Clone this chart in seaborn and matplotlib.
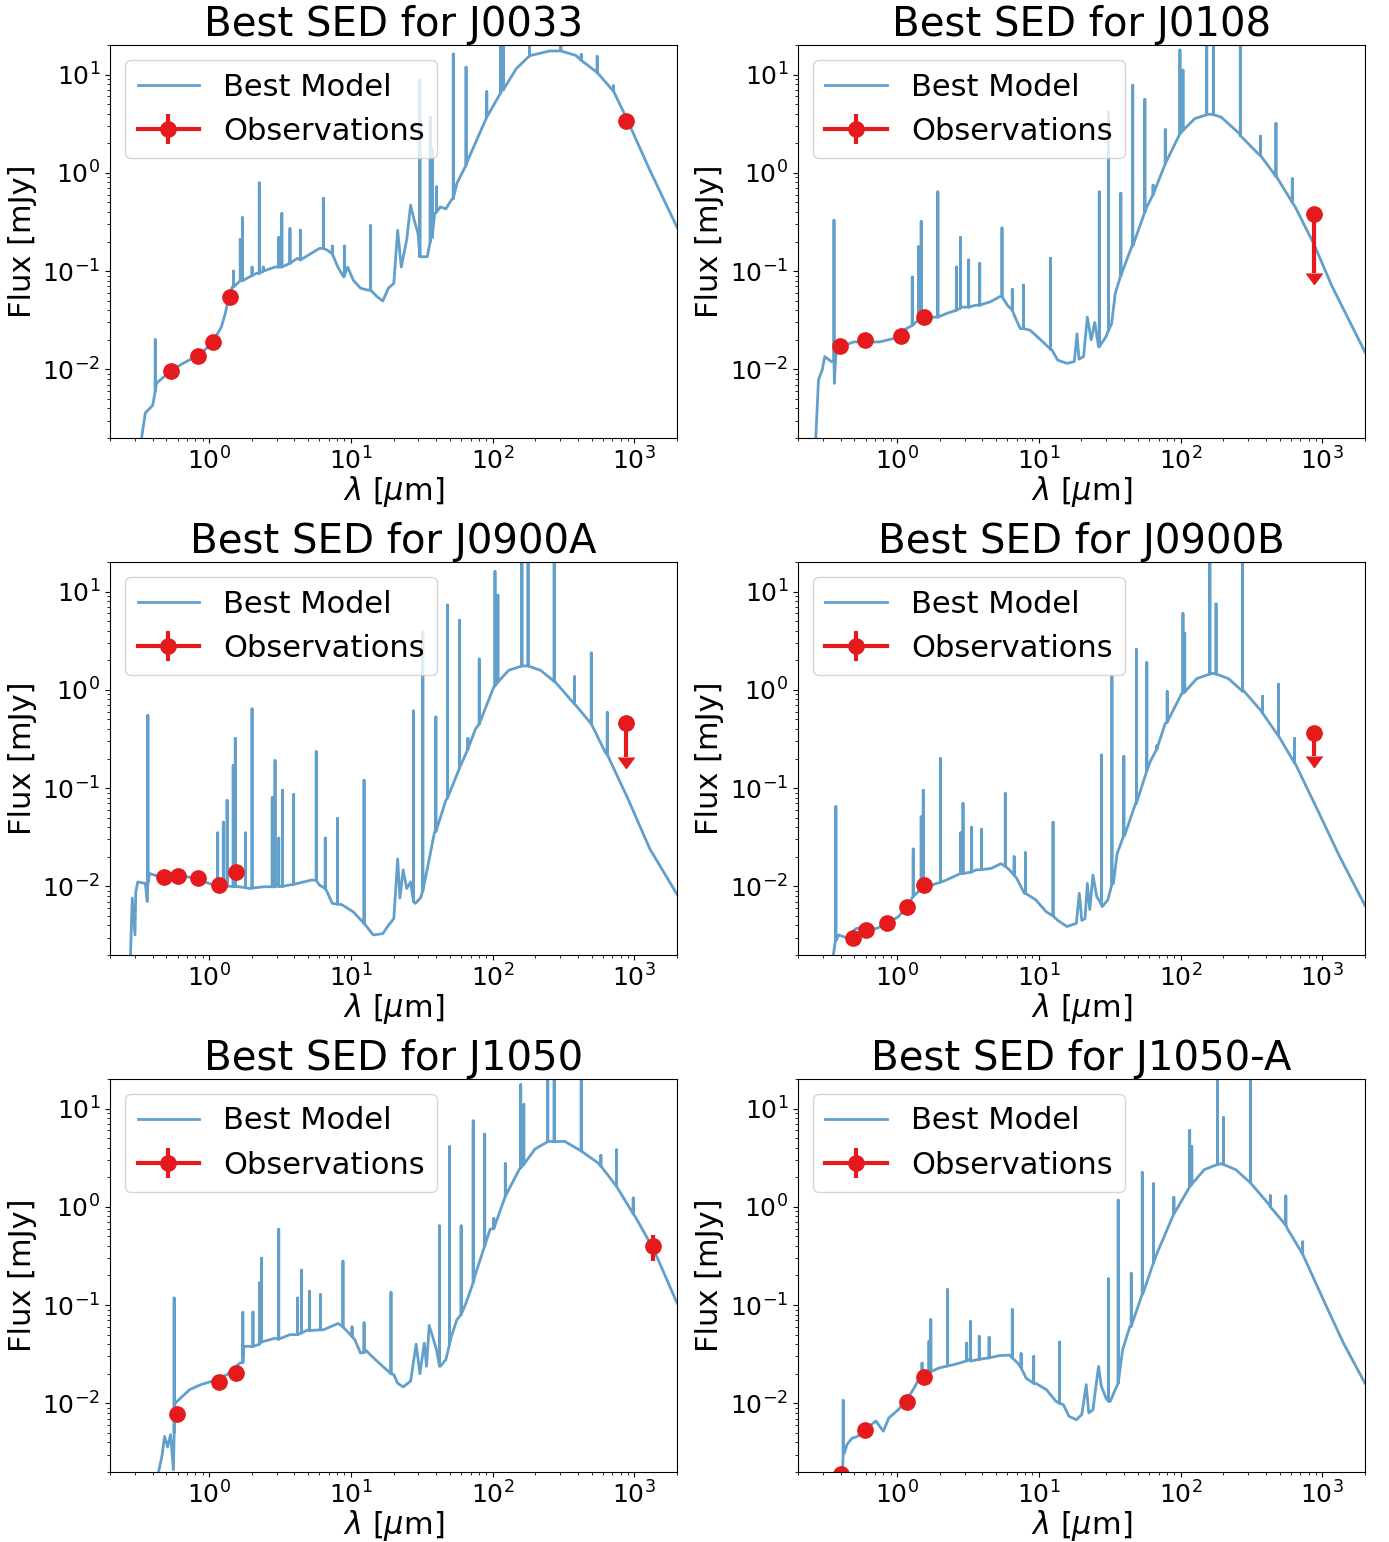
import matplotlib
matplotlib.use("Agg")
import pandas as pd
import matplotlib.pyplot as plt
import seaborn as sns

MODEL_COLOR = "#1f77b4"
OBS_COLOR = "#e41a1c"

# ---------------- J0033 ----------------
j0033_cont_wl = [0.334, 0.355, 0.40, 0.425, 0.48, 0.54, 0.69, 0.85, 1.05, 1.22, 1.30, 1.38, 1.46, 1.70,
                 2.16, 2.92, 4.2, 6.0, 6.8, 8.1, 8.9, 9.5, 10.4, 11.7, 13.2, 15.3, 16.8, 18.4, 20.1, 21.4,
                 22.7, 24.8, 26.4, 28, 29.8, 31.6, 34.6, 36.7, 39, 42.8, 46.8, 51.2, 56, 67, 91, 116, 147,
                 187, 253, 303, 386, 521, 705, 897, 1288, 2000]
j0033_cont_fx = [0.002, 0.0036, 0.0043, 0.0072, 0.0084, 0.0098, 0.012, 0.014, 0.0184, 0.027, 0.037, 0.055,
                 0.069, 0.081, 0.095, 0.11, 0.135, 0.17, 0.164, 0.11, 0.087, 0.11, 0.081, 0.067, 0.064, 0.055,
                 0.0496, 0.067, 0.075, 0.26, 0.11, 0.21, 0.47, 0.33, 0.24, 0.14, 0.14, 0.22, 0.385, 0.45, 0.43,
                 0.53, 0.78, 1.35, 3.7, 6.9, 11.5, 15.7, 17.4, 17.4, 15.7, 11.1, 6.9, 3.4, 1.06, 0.28]
j0033_line_wl = [0.417, 1.49, 1.66, 1.72, 2.01, 2.26, 2.41, 3.1, 3.26, 3.72, 4.41, 6.4, 7.4, 9.0, 13.8, 30.7,
                 36.3, 37.5, 40.3, 52.8, 65, 91, 114, 119, 182, 303, 422, 547, 713]
j0033_line_base = [0.006, 0.069, 0.08, 0.08, 0.09, 0.095, 0.1, 0.11, 0.11, 0.12, 0.13, 0.17, 0.15, 0.09, 0.064,
                   0.14, 0.2, 0.22, 0.4, 0.55, 1.2, 3.7, 6.5, 7.0, 15.5, 17.4, 14, 10.5, 6.8]
j0033_line_peak = [0.020, 0.10, 0.21, 0.35, 0.11, 0.79, 0.11, 0.22, 0.385, 0.27, 0.26, 0.55, 0.18, 0.18, 0.29,
                   8.8, 3.7, 1.77, 0.72, 16.2, 11.9, 6.7, 30, 30, 30, 30, 16, 15.3, 7.7]
j0033_obs_wl = [0.535, 0.83, 1.06, 1.40, 870]
j0033_obs_fx = [0.0097, 0.0138, 0.019, 0.054, 3.37]
j0033_obs_err = [0.0005, 0.0007, 0.001, 0.003, 0.3]
j0033_ul_wl, j0033_ul_fx, j0033_ul_err = [], [], []

# ---------------- J0108 ----------------
j0108_cont_wl = [0.267, 0.279, 0.296, 0.309, 0.344, 0.361, 0.37, 0.40, 0.494, 0.59, 0.75, 0.96, 1.11, 1.42,
                 1.75, 2.23, 2.84, 3.6, 4.6, 5.3, 6.0, 6.8, 7.4, 8.7, 10.7, 12.4, 13.6, 15.8, 17.8, 18.6, 19.2,
                 20.7, 22.0, 23.4, 24.8, 26.4, 29.8, 32.6, 34.6, 37.9, 45.4, 57.8, 78, 99, 126, 161, 193, 261,
                 352, 476, 644, 870, 1177, 2000]
j0108_cont_fx = [0.002, 0.0078, 0.0098, 0.0135, 0.012, 0.0072, 0.014, 0.017, 0.019, 0.019, 0.019, 0.0207,
                 0.025, 0.032, 0.034, 0.037, 0.043, 0.045, 0.049, 0.055, 0.045, 0.034, 0.026, 0.025, 0.019,
                 0.0157, 0.0124, 0.0115, 0.012, 0.023, 0.0127, 0.0135, 0.034, 0.02, 0.03, 0.017, 0.0215, 0.029,
                 0.059, 0.091, 0.18, 0.45, 1.24, 2.5, 3.57, 3.96, 3.7, 2.5, 1.57, 0.91, 0.45, 0.19, 0.069, 0.015]
j0108_line_wl = [0.359, 1.28, 1.42, 1.48, 1.94, 2.62, 2.8, 3.2, 3.83, 5.5, 6.5, 7.8, 12.1, 26.7, 31, 37.9, 46,
                 56, 64, 78, 99, 104, 153, 171, 264, 367, 471, 614]
j0108_line_base = [0.012, 0.028, 0.032, 0.032, 0.034, 0.04, 0.042, 0.043, 0.045, 0.055, 0.04, 0.026, 0.016,
                   0.017, 0.025, 0.09, 0.18, 0.4, 0.6, 1.24, 2.5, 2.7, 3.9, 3.9, 2.4, 1.5, 0.92, 0.5]
j0108_line_peak = [0.33, 0.087, 0.177, 0.32, 0.64, 0.11, 0.22, 0.13, 0.12, 0.275, 0.065, 0.072, 0.135, 0.64,
                   4.2, 0.62, 7.8, 5.6, 0.75, 2.75, 17.8, 11.1, 30, 30, 30, 2.36, 3.2, 0.87]
j0108_obs_wl = [0.395, 0.59, 1.06, 1.55]
j0108_obs_fx = [0.0173, 0.020, 0.022, 0.034]
j0108_obs_err = [0.0009, 0.001, 0.0011, 0.0017]
j0108_ul_wl, j0108_ul_fx, j0108_ul_err = [870], [0.38], [0.285]

# ---------------- J0900A ----------------
j0900a_cont_wl = [0.279, 0.287, 0.30, 0.304, 0.314, 0.355, 0.366, 0.381, 0.45, 0.574, 0.73, 0.93, 1.18, 1.51,
                  1.92, 2.44, 3.1, 4.2, 5.3, 6.0, 6.8, 7.4, 8.65, 10.4, 12.4, 14.4, 16.8, 18.4, 20.1, 21.4,
                  22.2, 23.4, 24.8, 26.4, 28.5, 31, 34.6, 39, 46.8, 59.6, 75.8, 102, 130, 166, 218, 277, 374,
                  462, 625, 897, 1288, 2000]
j0900a_cont_fx = [0.002, 0.0076, 0.0032, 0.0088, 0.0111, 0.0107, 0.007, 0.0135, 0.0125, 0.013, 0.0124, 0.0111,
                  0.0103, 0.0099, 0.0095, 0.0099, 0.0103, 0.0107, 0.0116, 0.0103, 0.0088, 0.0067, 0.0065, 0.0055,
                  0.0042, 0.0032, 0.0033, 0.004, 0.0047, 0.019, 0.0076, 0.0147, 0.0095, 0.0111, 0.0067, 0.0076,
                  0.015, 0.036, 0.075, 0.17, 0.40, 1.07, 1.58, 1.75, 1.58, 1.2, 0.73, 0.51, 0.23, 0.079, 0.024,
                  0.0083]
j0900a_line_wl = [0.37, 1.15, 1.26, 1.34, 1.48, 1.53, 1.81, 2.01, 2.79, 2.92, 3.1, 3.3, 3.95, 5.7, 6.6, 8.05,
                  12.4, 27.7, 32.2, 39.8, 48.2, 58.5, 67, 80.5, 104, 109, 161, 178, 272, 379, 497, 644]
j0900a_line_base = [0.011, 0.01, 0.01, 0.01, 0.01, 0.01, 0.0097, 0.0096, 0.0099, 0.0099, 0.01, 0.01, 0.0105,
                    0.0115, 0.0095, 0.0066, 0.0042, 0.007, 0.009, 0.036, 0.08, 0.16, 0.25, 0.45, 1.1, 1.2, 1.75,
                    1.75, 1.22, 0.72, 0.45, 0.22]
j0900a_line_peak = [0.55, 0.035, 0.045, 0.075, 0.17, 0.32, 0.035, 0.64, 0.08, 0.19, 0.031, 0.095, 0.086, 0.235,
                    0.031, 0.049, 0.12, 0.61, 3.9, 0.53, 7.3, 5.1, 0.32, 2.06, 16, 9.2, 30, 30, 30, 1.36, 2.37,
                    0.59]
j0900a_obs_wl = [0.48, 0.60, 0.84, 1.17, 1.55]
j0900a_obs_fx = [0.0124, 0.0127, 0.0123, 0.0102, 0.014]
j0900a_obs_err = [0.0006, 0.0006, 0.0006, 0.0005, 0.0007]
j0900a_ul_wl, j0900a_ul_fx, j0900a_ul_err = [870], [0.46], [0.255]

# ---------------- J0900B ----------------
j0900b_cont_wl = [0.355, 0.366, 0.388, 0.44, 0.51, 0.59, 0.71, 0.85, 1.02, 1.15, 1.30, 1.46, 1.75, 2.23, 2.84,
                  3.6, 4.6, 5.4, 6.2, 7.0, 7.9, 9.5, 11.3, 13.6, 15.8, 18.4, 19.3, 20.1, 21.2, 22.0, 22.9, 24.1,
                  25.6, 28, 30.7, 33.6, 35.7, 40.3, 48.2, 61, 78, 102, 130, 171, 218, 277, 374, 476, 644, 925,
                  1327, 2000]
j0900b_cont_fx = [0.002, 0.0027, 0.0032, 0.003, 0.0037, 0.0039, 0.0037, 0.0042, 0.0049, 0.006, 0.0079, 0.0092,
                  0.0103, 0.0116, 0.0136, 0.0147, 0.0152, 0.017, 0.0147, 0.012, 0.0085, 0.0073, 0.0055, 0.0045,
                  0.0039, 0.0042, 0.0085, 0.0045, 0.0047, 0.0107, 0.0058, 0.013, 0.0079, 0.0062, 0.0073, 0.0107,
                  0.0216, 0.033, 0.07, 0.185, 0.455, 0.92, 1.3, 1.47, 1.3, 0.99, 0.6, 0.36, 0.178, 0.06, 0.02,
                  0.0064]
j0900b_line_wl = [0.37, 1.3, 1.48, 1.53, 2.02, 2.8, 2.92, 3.36, 3.95, 5.8, 6.7, 8.05, 12.6, 27.7, 32.8, 39.8,
                  48.8, 57.8, 68, 80.5, 104, 107, 161, 178, 273, 379, 491, 637]
j0900b_line_base = [0.0028, 0.0079, 0.0092, 0.0095, 0.011, 0.0135, 0.0135, 0.014, 0.0148, 0.016, 0.013, 0.0085,
                    0.005, 0.0065, 0.0105, 0.033, 0.07, 0.15, 0.25, 0.47, 0.93, 0.95, 1.45, 1.45, 0.97, 0.58,
                    0.34, 0.18]
j0900b_line_peak = [0.065, 0.024, 0.051, 0.095, 0.2, 0.035, 0.07, 0.04, 0.038, 0.088, 0.02, 0.022, 0.045,
                    0.217, 1.36, 0.21, 2.58, 1.89, 0.27, 0.96, 6.0, 3.76, 30, 7.5, 30, 0.86, 1.14, 0.32]
j0900b_obs_wl = [0.485, 0.60, 0.85, 1.17, 1.55]
j0900b_obs_fx = [0.003, 0.0036, 0.0042, 0.0062, 0.0102]
j0900b_obs_err = [0.00015, 0.0002, 0.0002, 0.0003, 0.0005]
j0900b_ul_wl, j0900b_ul_fx, j0900b_ul_err = [870], [0.36], [0.15]

# ---------------- J1050 ----------------
j1050_cont_wl = [0.44, 0.465, 0.485, 0.51, 0.535, 0.56, 0.574, 0.63, 0.73, 0.875, 1.05, 1.34, 1.65, 1.75, 1.92,
                 2.3, 2.92, 3.72, 5.0, 6.4, 8.15, 9.2, 10.7, 11.7, 12.8, 14.9, 16.8, 18.4, 20.1, 21.4, 23.4,
                 26.4, 28.9, 30.7, 33, 34.2, 35.7, 37.9, 40.3, 42.8, 46.8, 51.2, 56, 65, 76, 96, 123, 156, 199,
                 253, 322, 410, 554, 748, 1012, 1368, 2000]
j1050_cont_fx = [0.002, 0.0029, 0.0046, 0.0036, 0.0048, 0.0021, 0.01, 0.0113, 0.0138, 0.0155, 0.0168, 0.0196,
                 0.0257, 0.038, 0.038, 0.043, 0.046, 0.05, 0.056, 0.056, 0.065, 0.056, 0.044, 0.0325, 0.0345,
                 0.0278, 0.0238, 0.0212, 0.0196, 0.016, 0.0147, 0.0168, 0.04, 0.02, 0.041, 0.0238, 0.062, 0.047,
                 0.0345, 0.0238, 0.0278, 0.048, 0.071, 0.105, 0.21, 0.59, 1.28, 2.48, 3.87, 4.64, 4.64, 3.8, 2.8,
                 1.62, 0.8, 0.37, 0.105]
j1050_line_wl = [0.567, 1.73, 2.04, 2.27, 2.34, 3.1, 4.2, 4.49, 5.1, 6.1, 8.8, 10.2, 12.4, 19.2, 42.2, 49.7, 60,
                 73, 88, 102, 123, 158, 166, 245, 272, 422, 581, 748, 982]
j1050_line_base = [0.005, 0.026, 0.038, 0.04, 0.042, 0.045, 0.05, 0.052, 0.055, 0.056, 0.06, 0.048, 0.033, 0.02,
                   0.024, 0.04, 0.08, 0.17, 0.4, 0.6, 1.28, 2.5, 2.7, 4.6, 4.6, 3.7, 2.6, 1.62, 0.85]
j1050_line_peak = [0.118, 0.084, 0.085, 0.168, 0.30, 0.59, 0.118, 0.226, 0.138, 0.128, 0.28, 0.06, 0.066, 0.135,
                   0.64, 4.1, 0.64, 7.5, 5.5, 0.76, 2.75, 17.5, 11, 30, 30, 30, 3.34, 3.8, 1.23]
j1050_obs_wl = [0.59, 1.17, 1.56, 1350]
j1050_obs_fx = [0.0077, 0.0164, 0.0204, 0.40]
j1050_obs_err = [0.0004, 0.0008, 0.001, 0.12]
j1050_ul_wl, j1050_ul_fx, j1050_ul_err = [], [], []

# ---------------- J1050-A ----------------
j1050a_cont_wl = [0.412, 0.425, 0.443, 0.48, 0.525, 0.59, 0.71, 0.8, 0.875, 1.02, 1.15, 1.3, 1.42, 1.65, 1.98,
                  2.52, 3.2, 4.07, 5.2, 6.2, 7.1, 8.15, 9.5, 11.3, 13.2, 14.9, 16.3, 18.4, 20.1, 21.6, 22.5,
                  24.1, 25.3, 26.4, 27.6, 29.8, 32, 34.6, 39, 44, 54.4, 69, 93.6, 119, 147, 193, 245, 312, 422,
                  571, 727, 1042, 1410, 2000]
j1050a_cont_fx = [0.002, 0.0031, 0.0038, 0.0044, 0.0046, 0.0054, 0.0066, 0.0052, 0.0071, 0.0086, 0.0105,
                  0.0138, 0.0174, 0.0212, 0.0229, 0.0248, 0.0278, 0.0285, 0.0305, 0.031, 0.0257, 0.018, 0.016,
                  0.0138, 0.0105, 0.0097, 0.0074, 0.0068, 0.0077, 0.0155, 0.008, 0.0086, 0.015, 0.0238, 0.015,
                  0.0113, 0.0105, 0.0138, 0.035, 0.061, 0.132, 0.35, 0.935, 1.68, 2.39, 2.75, 2.39, 1.75, 1.05,
                  0.59, 0.33, 0.105, 0.041, 0.016]
j1050a_line_wl = [0.417, 1.5, 1.68, 1.73, 2.27, 3.1, 3.3, 3.8, 4.46, 6.5, 7.5, 9.2, 14, 31, 36.3, 44.9, 53.7,
                  64.4, 89.7, 116, 120, 182, 201, 312, 430, 553, 727]
j1050a_line_base = [0.0031, 0.018, 0.021, 0.021, 0.024, 0.027, 0.027, 0.028, 0.029, 0.029, 0.023, 0.016, 0.01,
                    0.0105, 0.016, 0.061, 0.13, 0.27, 0.85, 1.6, 1.7, 2.7, 2.7, 1.75, 1.0, 0.65, 0.33]
j1050a_line_peak = [0.0107, 0.0257, 0.043, 0.071, 0.144, 0.041, 0.068, 0.048, 0.047, 0.09, 0.032, 0.03, 0.042,
                    0.185, 1.17, 0.21, 2.24, 1.72, 1.25, 6.0, 4.1, 30, 8.1, 30, 1.3, 1.29, 0.44]
j1050a_obs_wl = [0.40, 0.59, 1.17, 1.55]
j1050a_obs_fx = [0.0019, 0.0053, 0.0103, 0.0184]
j1050a_obs_err = [0.0001, 0.0003, 0.0005, 0.0009]
j1050a_ul_wl, j1050a_ul_fx, j1050a_ul_err = [], [], []

sources = ["J0033", "J0108", "J0900A", "J0900B", "J1050", "J1050-A"]
panels = [
    (j0033_cont_wl, j0033_cont_fx, j0033_line_wl, j0033_line_base, j0033_line_peak,
     j0033_obs_wl, j0033_obs_fx, j0033_obs_err, j0033_ul_wl, j0033_ul_fx, j0033_ul_err),
    (j0108_cont_wl, j0108_cont_fx, j0108_line_wl, j0108_line_base, j0108_line_peak,
     j0108_obs_wl, j0108_obs_fx, j0108_obs_err, j0108_ul_wl, j0108_ul_fx, j0108_ul_err),
    (j0900a_cont_wl, j0900a_cont_fx, j0900a_line_wl, j0900a_line_base, j0900a_line_peak,
     j0900a_obs_wl, j0900a_obs_fx, j0900a_obs_err, j0900a_ul_wl, j0900a_ul_fx, j0900a_ul_err),
    (j0900b_cont_wl, j0900b_cont_fx, j0900b_line_wl, j0900b_line_base, j0900b_line_peak,
     j0900b_obs_wl, j0900b_obs_fx, j0900b_obs_err, j0900b_ul_wl, j0900b_ul_fx, j0900b_ul_err),
    (j1050_cont_wl, j1050_cont_fx, j1050_line_wl, j1050_line_base, j1050_line_peak,
     j1050_obs_wl, j1050_obs_fx, j1050_obs_err, j1050_ul_wl, j1050_ul_fx, j1050_ul_err),
    (j1050a_cont_wl, j1050a_cont_fx, j1050a_line_wl, j1050a_line_base, j1050a_line_peak,
     j1050a_obs_wl, j1050a_obs_fx, j1050a_obs_err, j1050a_ul_wl, j1050a_ul_fx, j1050a_ul_err),
]


def model_frame(cont_wl, cont_fx, line_wl, line_base, line_peak):
    # continuum points plus one vertical spike per emission line
    rows = [(w, f, 0) for w, f in zip(cont_wl, cont_fx, strict=True)]
    for w, b, p in zip(line_wl, line_base, line_peak, strict=True):
        rows += [(w, b, 1), (w, p, 2), (w, b, 3)]
    df = pd.DataFrame(rows, columns=["wl", "flux", "step"])
    return df.sort_values(["wl", "step"], kind="stable").reset_index(drop=True)


fig, axes = plt.subplots(3, 2, figsize=(13.89, 15.42), dpi=100)
fig.subplots_adjust(left=0.0792, right=0.9827, top=0.9708, bottom=0.0454, wspace=0.2134, hspace=0.3155)

for ax, name, data in zip(axes.flat, sources, panels):
    cont_wl, cont_fx, line_wl, line_base, line_peak, o_wl, o_fx, o_err, u_wl, u_fx, u_err = data
    ax.set_xscale("log")
    ax.set_yscale("log")

    model = model_frame(cont_wl, cont_fx, line_wl, line_base, line_peak)
    sns.lineplot(data=model, x="wl", y="flux", sort=False, estimator=None, ax=ax,
                 color=MODEL_COLOR, alpha=0.7, linewidth=2, label="Best Model")

    for i, (w, f, e) in enumerate(zip(o_wl, o_fx, o_err)):
        ax.errorbar([w], [f], yerr=[e], fmt="o-", color=OBS_COLOR, ms=11, lw=3, capsize=0,
                    label="Observations" if i == 0 else "_nolegend_")
    if u_wl:
        ax.errorbar(u_wl, u_fx, yerr=u_err, uplims=True, fmt="o", color=OBS_COLOR, ms=11, lw=3,
                    capsize=5.5)

    ax.set_xlim(0.2, 2000)
    ax.set_ylim(2e-3, 20)
    ax.set_title(f"Best SED for {name}", fontsize=29)
    ax.set_xlabel(r"$\lambda$ [$\mu$m]", fontsize=22, labelpad=-1)
    ax.set_ylabel("Flux [mJy]", fontsize=22)
    ax.tick_params(axis="both", which="major", labelsize=18)
    ax.legend(loc="upper left", fontsize=22)

fig.savefig("out.png", dpi=100)
